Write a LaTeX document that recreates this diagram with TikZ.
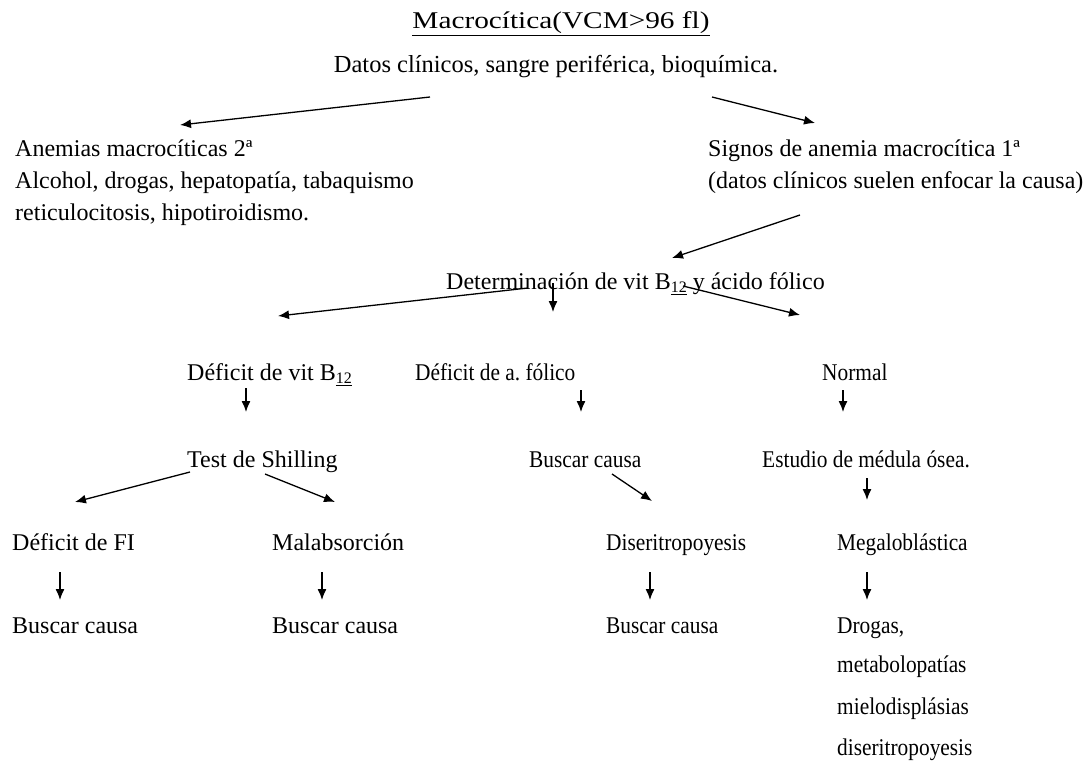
\documentclass[tikz,border=0pt]{standalone}
\usepackage{fontspec}
\setmainfont{Liberation Serif}
\usetikzlibrary{arrows.meta}
\newcommand{\Bdoce}{B\raisebox{-0.35ex}{\fontsize{16}{16}\selectfont\underline{12}}}
\newcommand{\nar}[1]{\scalebox{0.89}[1]{#1}}
\begin{document}
\frenchspacing
\begin{tikzpicture}[x=1pt,y=-1pt,
  txt/.style={inner sep=0pt,anchor=base west,font=\fontsize{24}{28}\selectfont},
  ctxt/.style={txt,anchor=base},
  arr/.style={-{Latex[length=11pt,width=9pt]},line width=1.3pt}]
\useasboundingbox[fill=white] (0,0) rectangle (1092,768);

% texts
\node[ctxt] (title) at (561,29) {\scalebox{1.22}[1]{\underline{Macrocítica(VCM>96 fl)}}};
\node[ctxt,font=\fontsize{24.5}{28}\selectfont] (datos) at (556,73) {Datos clínicos, sangre periférica, bioquímica.};
\node[txt] (anem1) at (15,156) {Anemias macrocíticas 2ª};
\node[txt] (anem2) at (15,188) {Alcohol, drogas, hepatopatía, tabaquismo};
\node[txt] (anem3) at (15,220) {reticulocitosis, hipotiroidismo.};
\node[txt] (signos1) at (708,156) {Signos de anemia macrocítica 1ª};
\node[txt] (signos2) at (708,188) {(datos clínicos suelen enfocar la causa)};
\node[txt] (det) at (446,289) {Determinación de vit \Bdoce{} y ácido fólico};
\node[txt] (defb) at (187,380) {Déficit de vit \Bdoce};
\node[txt] (deff) at (415,380) {\nar{Déficit de a.\ fólico}};
\node[txt] (normal) at (822,380) {\nar{Normal}};
\node[txt] (test) at (187,467) {Test de Shilling};
\node[txt] (busc1) at (529,467) {\nar{Buscar causa}};
\node[txt] (estudio) at (762,467) {\nar{Estudio de médula ósea.}};
\node[txt] (fi) at (12,550) {Déficit de FI};
\node[txt] (malab) at (272,550) {Malabsorción};
\node[txt] (diser) at (606,550) {\nar{Diseritropoyesis}};
\node[txt] (megalo) at (837,550) {\nar{Megaloblástica}};
\node[txt] (bfi) at (12,633) {Buscar causa};
\node[txt] (bmal) at (272,633) {Buscar causa};
\node[txt] (bdis) at (606,633) {\nar{Buscar causa}};
\node[txt] (drog1) at (837,633) {\nar{Drogas,}};
\node[txt] (drog2) at (837,672) {\nar{metabolopatías}};
\node[txt] (drog3) at (837,714) {\nar{mielodisplásias}};
\node[txt] (drog4) at (837,755) {\nar{diseritropoyesis}};

% connector end points
\coordinate (a1s) at (430,97);  \coordinate (a1e) at (180,125);
\coordinate (a2s) at (712,97);  \coordinate (a2e) at (815,123);
\coordinate (a3s) at (800,215); \coordinate (a3e) at (672,258);
\coordinate (a4s) at (528,288); \coordinate (a4e) at (278,316);
\coordinate (a5s) at (553,283); \coordinate (a5e) at (553,312);
\coordinate (a6s) at (683,286); \coordinate (a6e) at (800,315);
\coordinate (a7s) at (246,388); \coordinate (a7e) at (246,412);
\coordinate (a8s) at (581,390); \coordinate (a8e) at (581,412);
\coordinate (a9s) at (843,390); \coordinate (a9e) at (843,412);
\coordinate (b1s) at (190,472); \coordinate (b1e) at (75,502);
\coordinate (b2s) at (265,474); \coordinate (b2e) at (335,502);
\coordinate (b3s) at (612,474); \coordinate (b3e) at (652,501);
\coordinate (b4s) at (867,478); \coordinate (b4e) at (867,500);
\coordinate (c1s) at (60,572);  \coordinate (c1e) at (60,600);
\coordinate (c2s) at (322,572); \coordinate (c2e) at (322,600);
\coordinate (c3s) at (650,572); \coordinate (c3e) at (650,600);
\coordinate (c4s) at (867,572); \coordinate (c4e) at (867,600);

\foreach \s/\e in {a1s/a1e,a2s/a2e,a3s/a3e,a4s/a4e,a5s/a5e,a6s/a6e,a7s/a7e,a8s/a8e,a9s/a9e,
  b1s/b1e,b2s/b2e,b3s/b3e,b4s/b4e,c1s/c1e,c2s/c2e,c3s/c3e,c4s/c4e}
  \draw[arr] (\s) -- (\e);
\end{tikzpicture}
\end{document}
